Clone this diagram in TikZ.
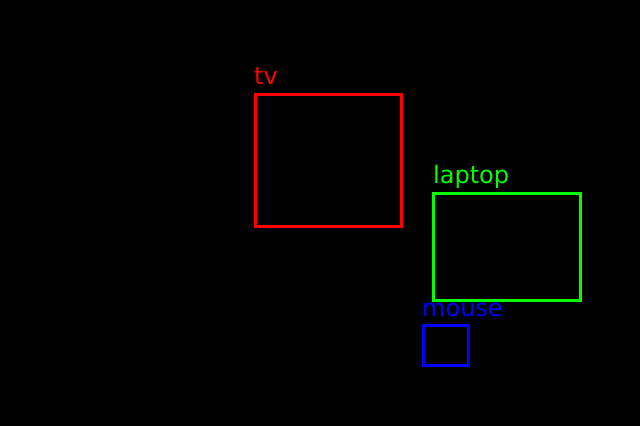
\documentclass[tikz,border=0pt]{standalone}
\usepackage{fontspec}
\setmainfont{DejaVu Sans}
\begin{document}
\begin{tikzpicture}[x=1pt,y=-1pt,
    box/.style={line width=3pt},
    tag/.style={anchor=base west,inner sep=0pt,font=\fontsize{24}{24}\selectfont}]
        \fill [black] (0,0) rectangle (640,426);
        \node [tag,red] (tvlabel) at (254,84) {tv};
        \node [tag,green] (laptoplabel) at (433,183) {laptop};
        \node [tag,blue] (mouselabel) at (422,316) {mouse};
%        boxes
        \draw [box,red] (255,94) rectangle (401,226);
        \draw [box,green] (433.5,193) rectangle (580,300.5);
        \draw [box,blue] (423,325) rectangle (468,365);
      \end{tikzpicture}
\end{document}
